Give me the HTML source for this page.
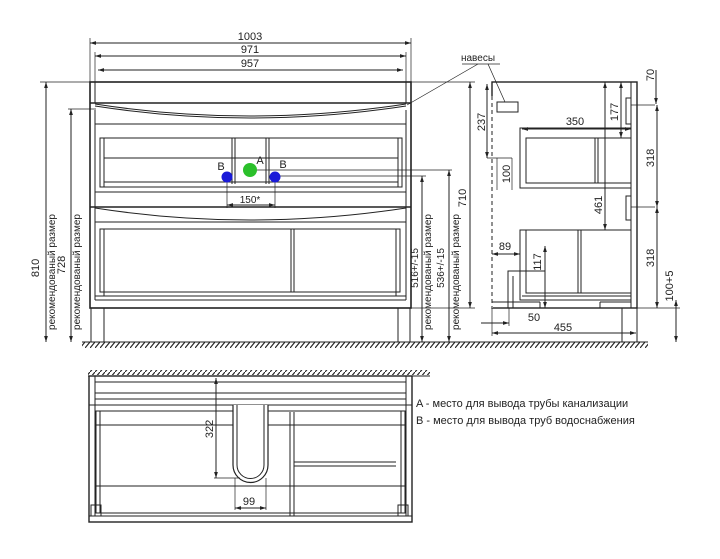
<!DOCTYPE html>
<html><head><meta charset="utf-8"><style>
html,body{margin:0;padding:0;background:#fff}
svg{display:block}
text{font-family:"Liberation Sans",sans-serif;fill:#222}
</style></head><body>
<svg width="720" height="559" viewBox="0 0 720 559" xmlns="http://www.w3.org/2000/svg">
<defs>
<pattern id="h" width="5" height="6" patternUnits="userSpaceOnUse"><path d="M5 0 L0 6" stroke="#222" stroke-width="1.2"/></pattern>
<marker id="a" viewBox="0 0 8 8" refX="8" refY="4" markerWidth="6" markerHeight="6" orient="auto-start-reverse"><path d="M0 1.5 L8 4 L0 6.5z" fill="#222"/></marker>
</defs>
<g stroke="#222" fill="none" stroke-width="1">
<rect x="82" y="342" width="400" height="6" fill="url(#h)" stroke="none"/>
<line x1="82" y1="342" x2="482" y2="342"/>
<rect x="480" y="342" width="168" height="6" fill="url(#h)" stroke="none"/>
<line x1="480" y1="342" x2="648" y2="342"/>
<rect x="90" y="82" width="321" height="226" stroke-width="1.6"/>
<line x1="95" y1="82" x2="95" y2="103"/><line x1="406" y1="82" x2="406" y2="103"/>
<line x1="90" y1="103" x2="411" y2="103" stroke-width="1.4"/>
<path d="M95 104 Q250 128 406 104"/>
<path d="M95 106 Q250 130 406 106"/>
<line x1="95" y1="110" x2="95" y2="300"/><line x1="406" y1="110" x2="406" y2="300"/>
<line x1="95" y1="124" x2="406" y2="124"/>
<rect x="100" y="138" width="302" height="49"/>
<line x1="104" y1="138" x2="104" y2="187"/><line x1="398" y1="138" x2="398" y2="187"/>
<line x1="104" y1="158" x2="398" y2="158"/>
<line x1="104" y1="182" x2="398" y2="182"/>
<line x1="232" y1="138" x2="232" y2="184"/><line x1="235" y1="138" x2="235" y2="184"/>
<line x1="266" y1="138" x2="266" y2="184"/><line x1="269" y1="138" x2="269" y2="184"/>
<line x1="95" y1="192" x2="406" y2="192"/>
<line x1="90" y1="207" x2="411" y2="207" stroke-width="1.4"/>
<path d="M95 208 Q250 232 406 208"/>
<line x1="95" y1="222" x2="406" y2="222"/>
<rect x="100" y="229" width="300" height="63"/>
<line x1="104" y1="229" x2="104" y2="296"/><line x1="396" y1="229" x2="396" y2="296"/>
<line x1="291" y1="229" x2="291" y2="292"/><line x1="294" y1="229" x2="294" y2="292"/>
<line x1="95" y1="296" x2="406" y2="296"/>
<line x1="95" y1="300" x2="406" y2="300"/>
<rect x="91" y="308" width="13" height="34"/><rect x="398" y="308" width="12" height="34"/>
<line x1="90" y1="38" x2="90" y2="82" stroke-width=".7"/><line x1="411" y1="38" x2="411" y2="82" stroke-width=".7"/>
<line x1="95" y1="52" x2="95" y2="82" stroke-width=".7"/><line x1="406" y1="52" x2="406" y2="82" stroke-width=".7"/>
<line x1="90" y1="43" x2="411" y2="43" marker-start="url(#a)" marker-end="url(#a)"/>
<line x1="95" y1="56" x2="406" y2="56" marker-start="url(#a)" marker-end="url(#a)"/>
<line x1="98" y1="70" x2="403" y2="70" marker-start="url(#a)" marker-end="url(#a)"/>
<line x1="40" y1="82" x2="90" y2="82" stroke-width=".7"/>
<line x1="46" y1="82" x2="46" y2="342" marker-start="url(#a)" marker-end="url(#a)"/>
<line x1="68" y1="109" x2="96" y2="109" stroke-width=".7"/>
<line x1="71" y1="109" x2="71" y2="342" marker-start="url(#a)" marker-end="url(#a)"/>
<line x1="227" y1="177" x2="227" y2="208" stroke-width=".7"/><line x1="275" y1="177" x2="275" y2="208" stroke-width=".7"/>
<line x1="227" y1="205" x2="275" y2="205" marker-start="url(#a)" marker-end="url(#a)"/>
<line x1="275" y1="176" x2="426" y2="176" stroke-width=".7"/>
<line x1="250" y1="170" x2="452" y2="170" stroke-width=".7"/>
<line x1="422" y1="176" x2="422" y2="342" marker-start="url(#a)" marker-end="url(#a)"/>
<line x1="449" y1="170" x2="449" y2="342" marker-start="url(#a)" marker-end="url(#a)"/>
<line x1="411" y1="82" x2="475" y2="82" stroke-width=".7"/>
<line x1="411" y1="308" x2="475" y2="308" stroke-width=".7"/>
<line x1="470" y1="82" x2="470" y2="308" marker-start="url(#a)" marker-end="url(#a)"/>
<line x1="462" y1="64" x2="500" y2="64" stroke-width=".7"/>
<line x1="478" y1="64" x2="407" y2="105" stroke-width=".7"/>
<line x1="488" y1="64" x2="505" y2="102" stroke-width=".7"/>
<rect x="492" y="82" width="145" height="226" stroke-width="1.4"/>
<line x1="631" y1="82" x2="631" y2="308"/>
<line x1="492" y1="96" x2="492" y2="308" stroke="#fff" stroke-width="2"/>
<line x1="492" y1="96" x2="492" y2="308" stroke-dasharray="4 3"/>
<rect x="497" y="102" width="21" height="10"/>
<rect x="626" y="98" width="5" height="26"/><rect x="626" y="196" width="5" height="24"/>
<line x1="631" y1="105" x2="655" y2="105" stroke-width=".7"/>
<line x1="631" y1="207" x2="655" y2="207" stroke-width=".7"/>
<rect x="520" y="128" width="111" height="60"/>
<rect x="526" y="138" width="105" height="45"/>
<line x1="595" y1="138" x2="595" y2="183"/><line x1="598" y1="138" x2="598" y2="183"/>
<rect x="520" y="230" width="111" height="70"/>
<rect x="526" y="230" width="105" height="63"/>
<line x1="578" y1="230" x2="578" y2="293"/><line x1="581" y1="230" x2="581" y2="293"/>
<path d="M508 308 V271 H545"/><path d="M513 308 V276"/>
<line x1="522" y1="296" x2="631" y2="296"/>
<line x1="540" y1="308" x2="540" y2="302"/><line x1="600" y1="308" x2="600" y2="302"/>
<line x1="492" y1="302" x2="540" y2="302"/><line x1="600" y1="302" x2="631" y2="302"/>
<line x1="622" y1="308" x2="622" y2="342"/><line x1="637" y1="308" x2="637" y2="342"/>
<line x1="487" y1="84" x2="487" y2="158" marker-start="url(#a)" marker-end="url(#a)"/>
<line x1="487" y1="158" x2="512" y2="158" stroke-width=".7"/>
<line x1="512" y1="158" x2="512" y2="190" stroke-width=".7"/>
<line x1="497" y1="158" x2="497" y2="190" stroke-width=".7"/>
<line x1="522" y1="129" x2="631" y2="129" marker-start="url(#a)" marker-end="url(#a)"/>
<line x1="621" y1="82" x2="621" y2="138" marker-start="url(#a)" marker-end="url(#a)"/>
<line x1="605" y1="82" x2="605" y2="230" marker-start="url(#a)" marker-end="url(#a)"/>
<line x1="492" y1="254" x2="520" y2="254" marker-start="url(#a)" marker-end="url(#a)"/>
<line x1="545" y1="246" x2="545" y2="308" marker-start="url(#a)" marker-end="url(#a)"/>
<line x1="509" y1="308" x2="509" y2="326" stroke-width=".7"/>
<line x1="481" y1="323" x2="509" y2="323" marker-end="url(#a)"/>
<line x1="492" y1="308" x2="492" y2="336" stroke-width=".7"/>
<line x1="492" y1="333" x2="636" y2="333" marker-start="url(#a)" marker-end="url(#a)"/>
<line x1="657" y1="105" x2="657" y2="207" marker-start="url(#a)" marker-end="url(#a)"/>
<line x1="657" y1="207" x2="657" y2="308" marker-start="url(#a)" marker-end="url(#a)"/>
<line x1="656" y1="70" x2="656" y2="104" marker-end="url(#a)"/>
<line x1="637" y1="308" x2="680" y2="308" stroke-width=".7"/>
<line x1="676" y1="300" x2="676" y2="342" marker-start="url(#a)" marker-end="url(#a)"/>
<rect x="88" y="370" width="342" height="5" fill="url(#h)" stroke="none"/>
<line x1="88" y1="376" x2="430" y2="376"/>
<rect x="89" y="376" width="323" height="146" stroke-width="1.4"/>
<line x1="95" y1="376" x2="95" y2="516"/><line x1="406" y1="376" x2="406" y2="516"/>
<line x1="95" y1="382" x2="406" y2="382"/>
<line x1="95" y1="393" x2="406" y2="393"/>
<line x1="95" y1="399" x2="406" y2="399"/>
<line x1="89" y1="405" x2="412" y2="405"/>
<rect x="96" y="411" width="309" height="102"/>
<line x1="100" y1="411" x2="100" y2="513"/><line x1="401" y1="411" x2="401" y2="513"/>
<line x1="96" y1="425" x2="405" y2="425"/>
<line x1="96" y1="486" x2="405" y2="486"/>
<line x1="89" y1="516" x2="412" y2="516"/>
<path d="M233 405 V465 A17.5 17.5 0 0 0 268 465 V405" fill="#fff" stroke-width="1.2"/>
<path d="M237 405 V465 A13.5 13.5 0 0 0 264 465 V405"/>
<line x1="290" y1="412" x2="290" y2="516"/><line x1="294" y1="412" x2="294" y2="516"/>
<line x1="294" y1="462" x2="396" y2="462"/><line x1="294" y1="466" x2="396" y2="466"/>
<rect x="91" y="505" width="10" height="11"/><rect x="398" y="505" width="10" height="11"/>
<line x1="216" y1="378" x2="216" y2="478" marker-start="url(#a)" marker-end="url(#a)"/>
<line x1="214" y1="478" x2="240" y2="478" stroke-width=".7"/>
<line x1="235" y1="478" x2="235" y2="510" stroke-width=".7"/><line x1="266" y1="478" x2="266" y2="510" stroke-width=".7"/>
<line x1="235" y1="508" x2="266" y2="508" marker-start="url(#a)" marker-end="url(#a)"/>
</g>
<circle cx="250" cy="170" r="7" fill="#2bc02b"/>
<circle cx="227" cy="177" r="5.5" fill="#1a1ad8"/>
<circle cx="275" cy="177" r="5.5" fill="#1a1ad8"/>
<g font-size="11" text-anchor="middle">
<text x="250" y="40">1003</text>
<text x="250" y="53">971</text>
<text x="250" y="67">957</text>
<text x="221" y="170">B</text><text x="260" y="164">A</text><text x="283" y="168">B</text>
<text x="250" y="203" font-size="10">150*</text>
<text x="478" y="61" font-size="10">навесы</text>
<text x="575" y="125">350</text>
<text x="534" y="321">50</text>
<text x="563" y="331">455</text>
<text x="249" y="505">99</text>
<text x="505" y="250">89</text>
</g>
<g font-size="10" text-anchor="middle">
<text transform="translate(39,268) rotate(-90)" font-size="11">810</text>
<text transform="translate(55,272) rotate(-90)">рекомендованый размер</text>
<text transform="translate(65,265) rotate(-90)" font-size="11">728</text>
<text transform="translate(80,272) rotate(-90)">рекомендованый размер</text>
<text transform="translate(418,268) rotate(-90)">516+/-15</text>
<text transform="translate(431,272) rotate(-90)">рекомендованый размер</text>
<text transform="translate(444,268) rotate(-90)">536+/-15</text>
<text transform="translate(459,272) rotate(-90)">рекомендованый размер</text>
<text transform="translate(466,198) rotate(-90)" font-size="11">710</text>
<text transform="translate(485,122) rotate(-90)" font-size="11">237</text>
<text transform="translate(510,174) rotate(-90)" font-size="11">100</text>
<text transform="translate(618,112) rotate(-90)" font-size="11">177</text>
<text transform="translate(602,205) rotate(-90)" font-size="11">461</text>
<text transform="translate(541,262) rotate(-90)" font-size="11">117</text>
<text transform="translate(654,158) rotate(-90)" font-size="11">318</text>
<text transform="translate(654,258) rotate(-90)" font-size="11">318</text>
<text transform="translate(654,75) rotate(-90)" font-size="11">70</text>
<text transform="translate(673,286) rotate(-90)" font-size="11">100+5</text>
<text transform="translate(213,429) rotate(-90)" font-size="11">322</text>
</g>
<text x="416" y="407" font-size="11">A - место для вывода трубы канализации</text>
<text x="416" y="424" font-size="11">B - место для вывода труб водоснабжения</text>
</svg>
</body></html>
